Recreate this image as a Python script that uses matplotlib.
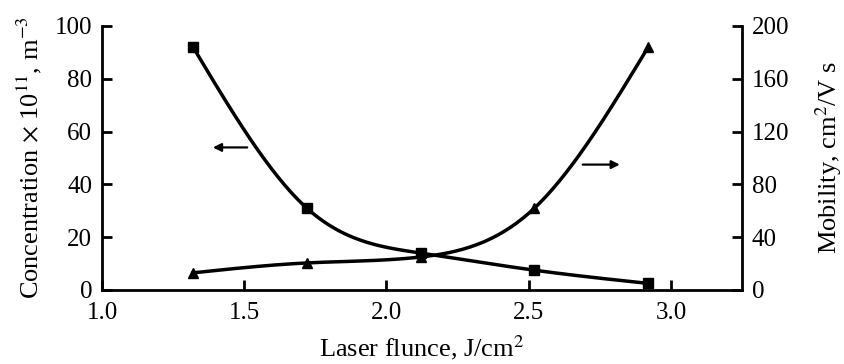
import numpy as np
import matplotlib.pyplot as plt

plt.rc('font', family='Liberation Serif')
plt.rc('mathtext', fontset='stix')

fluence = [1.32, 1.72, 2.12, 2.52, 2.92]          # J/cm^2
concentration = [92.0, 31.0, 14.0, 7.5, 2.5]      # x 1e11 m^-3
mobility = [13.0, 20.5, 25.0, 62.0, 184.0]        # cm^2/V s


def spline(x, y, n=200):
    # natural cubic spline, just for drawing the smooth line
    x = np.asarray(x, float)
    y = np.asarray(y, float)
    k = len(x)
    h = np.diff(x)
    A = np.zeros((k, k))
    b = np.zeros(k)
    A[0, 0] = A[-1, -1] = 1
    for i in range(1, k - 1):
        A[i, i - 1] = h[i - 1]
        A[i, i] = 2 * (h[i - 1] + h[i])
        A[i, i + 1] = h[i]
        b[i] = 6 * ((y[i + 1] - y[i]) / h[i] - (y[i] - y[i - 1]) / h[i - 1])
    M = np.linalg.solve(A, b)
    xs = np.linspace(x[0], x[-1], n)
    j = np.clip(np.searchsorted(x, xs) - 1, 0, k - 2)
    t0 = x[j + 1] - xs
    t1 = xs - x[j]
    hj = h[j]
    ys = (M[j] * t0**3 + M[j + 1] * t1**3) / (6 * hj) \
        + (y[j] / hj - M[j] * hj / 6) * t0 + (y[j + 1] / hj - M[j + 1] * hj / 6) * t1
    return xs, ys


fig = plt.figure(figsize=(8.44, 3.64), dpi=100)
ax = fig.add_axes([0.1209, 0.2033, 0.7583, 0.7253])
ax2 = ax.twinx()

xs, ys = spline(fluence, concentration)
ax.plot(xs, ys, color='black', lw=2.5)
ax.plot(fluence, concentration, 's', color='black', ms=7.5)

xs, ys = spline(fluence, mobility)
ax2.plot(xs, ys, color='black', lw=2.5)
ax2.plot(fluence, mobility, '^', color='black', ms=6.5)

ax.set_xlim(1.0, 3.25)
ax.set_ylim(0, 100)
ax2.set_ylim(0, 200)
ax.set_xticks([1.0, 1.5, 2.0, 2.5, 3.0])
ax.set_xticklabels(['1.0', '1.5', '2.0', '2.5', '3.0'])
ax.set_yticks([0, 20, 40, 60, 80, 100])
ax2.set_yticks([0, 40, 80, 120, 160, 200])

for a in (ax, ax2):
    a.spines['top'].set_visible(False)
    for s in a.spines.values():
        s.set_linewidth(2)
    a.tick_params(direction='in', length=7, width=2, labelsize=18, pad=7)
ax.tick_params(axis='x', pad=9)
ax.spines['right'].set_visible(False)
ax2.spines['left'].set_visible(False)
ax2.spines['bottom'].set_visible(False)

ax.set_xlabel('Laser flunce, J/cm$^2$', fontsize=19, labelpad=6)
ax.set_ylabel(r'Concentration $\times$ 10$^{11}$, m$^{-3}$', fontsize=19, labelpad=8)
ax2.set_ylabel('Mobility, cm$^2$/V s', fontsize=19, labelpad=17)

# arrows pointing to each curve's axis
ax.annotate('', xy=(1.38, 54), xytext=(1.52, 54),
            arrowprops=dict(arrowstyle='-|>', color='black', lw=1.6, mutation_scale=12))
ax.annotate('', xy=(2.83, 47.5), xytext=(2.68, 47.5),
            arrowprops=dict(arrowstyle='-|>', color='black', lw=1.6, mutation_scale=12))

plt.savefig('out.png', dpi=100)
